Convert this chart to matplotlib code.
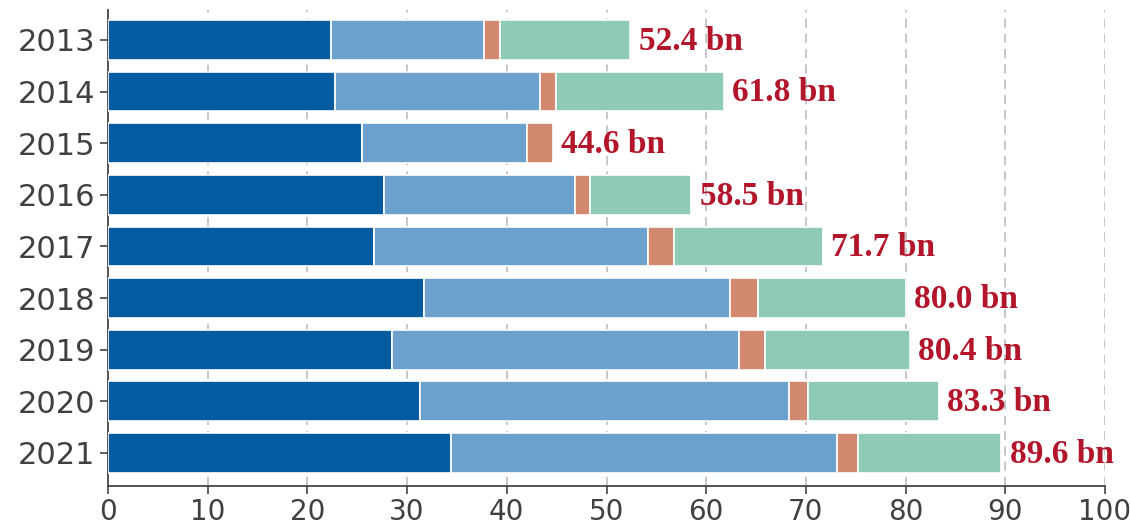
import matplotlib
matplotlib.use("Agg")
import matplotlib.pyplot as plt
import numpy as np

years = ["2013", "2014", "2015", "2016", "2017", "2018", "2019", "2020", "2021"]
seg_dark = [22.4, 22.8, 25.5, 27.7, 26.7, 31.7, 28.5, 31.3, 34.4]
seg_light = [15.3, 20.5, 16.5, 19.1, 27.5, 30.7, 34.8, 37.0, 38.7]
seg_orange = [1.6, 1.6, 2.6, 1.5, 2.6, 2.8, 2.6, 1.9, 2.1]
seg_green = [13.1, 16.9, 0.0, 10.2, 14.9, 14.8, 14.5, 13.1, 14.4]
totals = [52.4, 61.8, 44.6, 58.5, 71.7, 80.0, 80.4, 83.3, 89.6]
x_ticks = [0, 10, 20, 30, 40, 50, 60, 70, 80, 90, 100]

colors = ["#055ba0", "#6ca1cd", "#d3896f", "#8ecab4"]
label_color = "#b3162b"
text_color = "#404040"

fig = plt.figure(figsize=(11.3, 5.26), dpi=100)
ax = fig.add_axes([108 / 1130, 40 / 526, (1105 - 108) / 1130, (516 - 40) / 526])

y = np.arange(len(years))
left = np.zeros(len(years))
for vals, col in zip([seg_dark, seg_light, seg_orange, seg_green], colors):
    vals = np.array(vals)
    m = vals > 0
    ax.barh(y[m], vals[m], left=left[m], height=0.77, color=col,
            edgecolor="white", linewidth=1.2, zorder=3)
    left = left + vals

for yi, t in zip(y, totals):
    ax.annotate(f"{t:.1f} bn", xy=(t, yi), xytext=(6, -1), textcoords="offset points",
                va="center", ha="left", fontsize=24, fontweight="bold",
                family="Liberation Serif", color=label_color, zorder=4)

ax.set_xlim(0, 100)
ax.set_ylim(8.64, -0.58)
ax.set_xticks(x_ticks)
ax.set_xticklabels([str(v) for v in x_ticks])
ax.set_yticks(y)
ax.set_yticklabels(years)

for v in x_ticks[1:]:
    ax.axvline(v, color="#b8b8b8", linewidth=1.1, linestyle=(0, (6, 4)), zorder=1)

for s in ["top", "right"]:
    ax.spines[s].set_visible(False)
for s in ["left", "bottom"]:
    ax.spines[s].set_color("#444444")
    ax.spines[s].set_linewidth(1.3)

ax.tick_params(axis="both", colors="#444444", labelcolor=text_color,
               length=6, width=1.2)
ax.tick_params(axis="x", pad=3, labelsize=20)
ax.tick_params(axis="y", pad=3, labelsize=22)
for lab in ax.get_xticklabels() + ax.get_yticklabels():
    lab.set_family("DejaVu Sans")

fig.savefig("out.png", dpi=100, facecolor="white")
